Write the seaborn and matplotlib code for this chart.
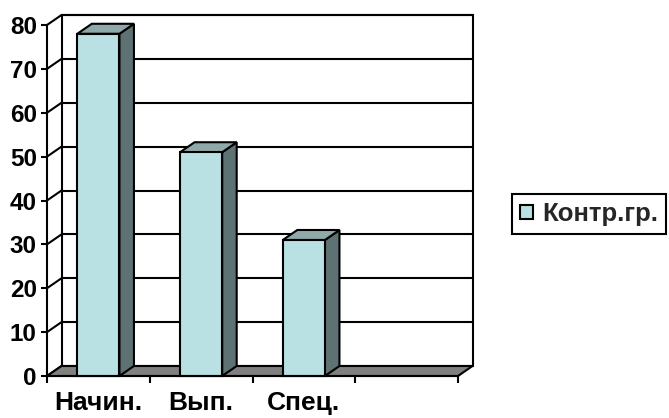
import numpy as np
import pandas as pd
import matplotlib
matplotlib.use("Agg")
import matplotlib.pyplot as plt
from matplotlib.patches import Polygon, Patch
import seaborn as sns

# Data
categories = ["Начин.", "Вып.", "Спец."]
values = [78, 51, 31]
series_name = "Контр.гр."
n_slots = 4
y_ticks = [0, 10, 20, 30, 40, 50, 60, 70, 80]

# Colours
FRONT = "#B9E0E3"
SIDE = "#5E7173"
TOP = "#8FA9AA"
FLOOR = "#808080"
LW = 1.5

sns.set_style("white")
plt.rcParams["font.family"] = ["Liberation Sans", "DejaVu Sans"]
plt.rcParams["font.weight"] = "bold"

W, H = 669, 418
fig = plt.figure(figsize=(W / 100, H / 100), dpi=100)
# front plane of the 3D box, in pixels: x 47..458, y 376 (0) .. 25 (80)
ax_w, ax_h = 411, 351
ax = fig.add_axes([47 / W, 1 - 376 / H, ax_w / W, ax_h / H])

df = pd.DataFrame({"cat": categories, "val": values, "series": series_name})
sns.barplot(data=df, x="cat", y="val", hue="series", palette=[FRONT],
            width=0.41, edgecolor="black", linewidth=LW, saturation=1,
            ax=ax, legend=False, zorder=5)
bars = list(ax.patches)

ax.set_xlim(-0.5, n_slots - 0.5)
ax.set_ylim(0, 80)

# depth offset of the 3D box, converted from pixels to data units
DX = 14.5 / (ax_w / n_slots)
DY = 10.0 / (ax_h / 80)
x_lo, x_hi = -0.5, n_slots - 0.5

# back wall
ax.add_patch(Polygon([(x_lo + DX, DY), (x_hi + DX, DY), (x_hi + DX, 80 + DY),
                      (x_lo + DX, 80 + DY)], closed=True, facecolor="white",
                     edgecolor="black", lw=LW, clip_on=False, zorder=1))
for y in y_ticks[1:]:
    ax.plot([x_lo + DX, x_hi + DX], [y + DY, y + DY], color="black", lw=LW,
            clip_on=False, zorder=1.5, solid_capstyle="butt")
# side wall diagonals
for y in y_ticks:
    ax.plot([x_lo, x_lo + DX], [y, y + DY], color="black", lw=LW,
            clip_on=False, zorder=1.5)

# floor
ax.add_patch(Polygon([(x_lo, 0), (x_hi, 0), (x_hi + DX, DY), (x_lo + DX, DY)],
                     closed=True, facecolor=FLOOR, edgecolor="black", lw=LW,
                     clip_on=False, zorder=2))

# 3D sides and tops of the bars
for p in bars:
    x0, w, h = p.get_x(), p.get_width(), p.get_height()
    x1 = x0 + w
    ax.add_patch(Polygon([(x1, 0), (x1, h), (x1 + DX, h + DY), (x1 + DX, DY)],
                         closed=True, facecolor=SIDE, edgecolor="black", lw=LW,
                         clip_on=False, zorder=4))
    ax.add_patch(Polygon([(x0, h), (x1, h), (x1 + DX, h + DY), (x0 + DX, h + DY)],
                         closed=True, facecolor=TOP, edgecolor="black", lw=LW,
                         clip_on=False, zorder=4))
    p.set_clip_on(False)

# axes styling
for side in ("top", "right"):
    ax.spines[side].set_visible(False)
for side in ("left", "bottom"):
    ax.spines[side].set_color("black")
    ax.spines[side].set_linewidth(LW)
    ax.spines[side].set_zorder(6)

ax.set_yticks(y_ticks)
ax.set_yticklabels([str(v) for v in y_ticks])
ax.tick_params(axis="y", left=True, direction="out", length=4.3, width=LW,
               pad=3, labelsize=17.5, colors="black")

ax.set_xticks(np.arange(x_lo, x_hi + 0.01, 1.0))
ax.set_xticklabels([])
ax.set_xticks(np.arange(len(categories)), minor=True)
ax.set_xticklabels(categories, minor=True)
ax.tick_params(axis="x", which="major", bottom=True, direction="out",
               length=5, width=LW, colors="black")
ax.tick_params(axis="x", which="minor", bottom=True, length=0, pad=11,
               labelsize=19, colors="black")
for lbl in ax.get_xticklabels(minor=True) + ax.get_yticklabels():
    lbl.set_fontweight("bold")

ax.set_xlabel("")
ax.set_ylabel("")
ax.set_facecolor("none")

# legend
handle = Patch(facecolor=FRONT, edgecolor="black", lw=LW)
leg = fig.legend([handle], [series_name], loc="center",
                 bbox_to_anchor=(589 / W, 1 - 214 / H), frameon=True,
                 fancybox=False, edgecolor="black", framealpha=1,
                 prop={"weight": "bold", "size": 18.5}, handlelength=0.5,
                 handleheight=0.5, handletextpad=0.35, borderpad=0.3,
                 borderaxespad=0)
leg.get_frame().set_linewidth(LW)

fig.savefig("out.png", dpi=100)
